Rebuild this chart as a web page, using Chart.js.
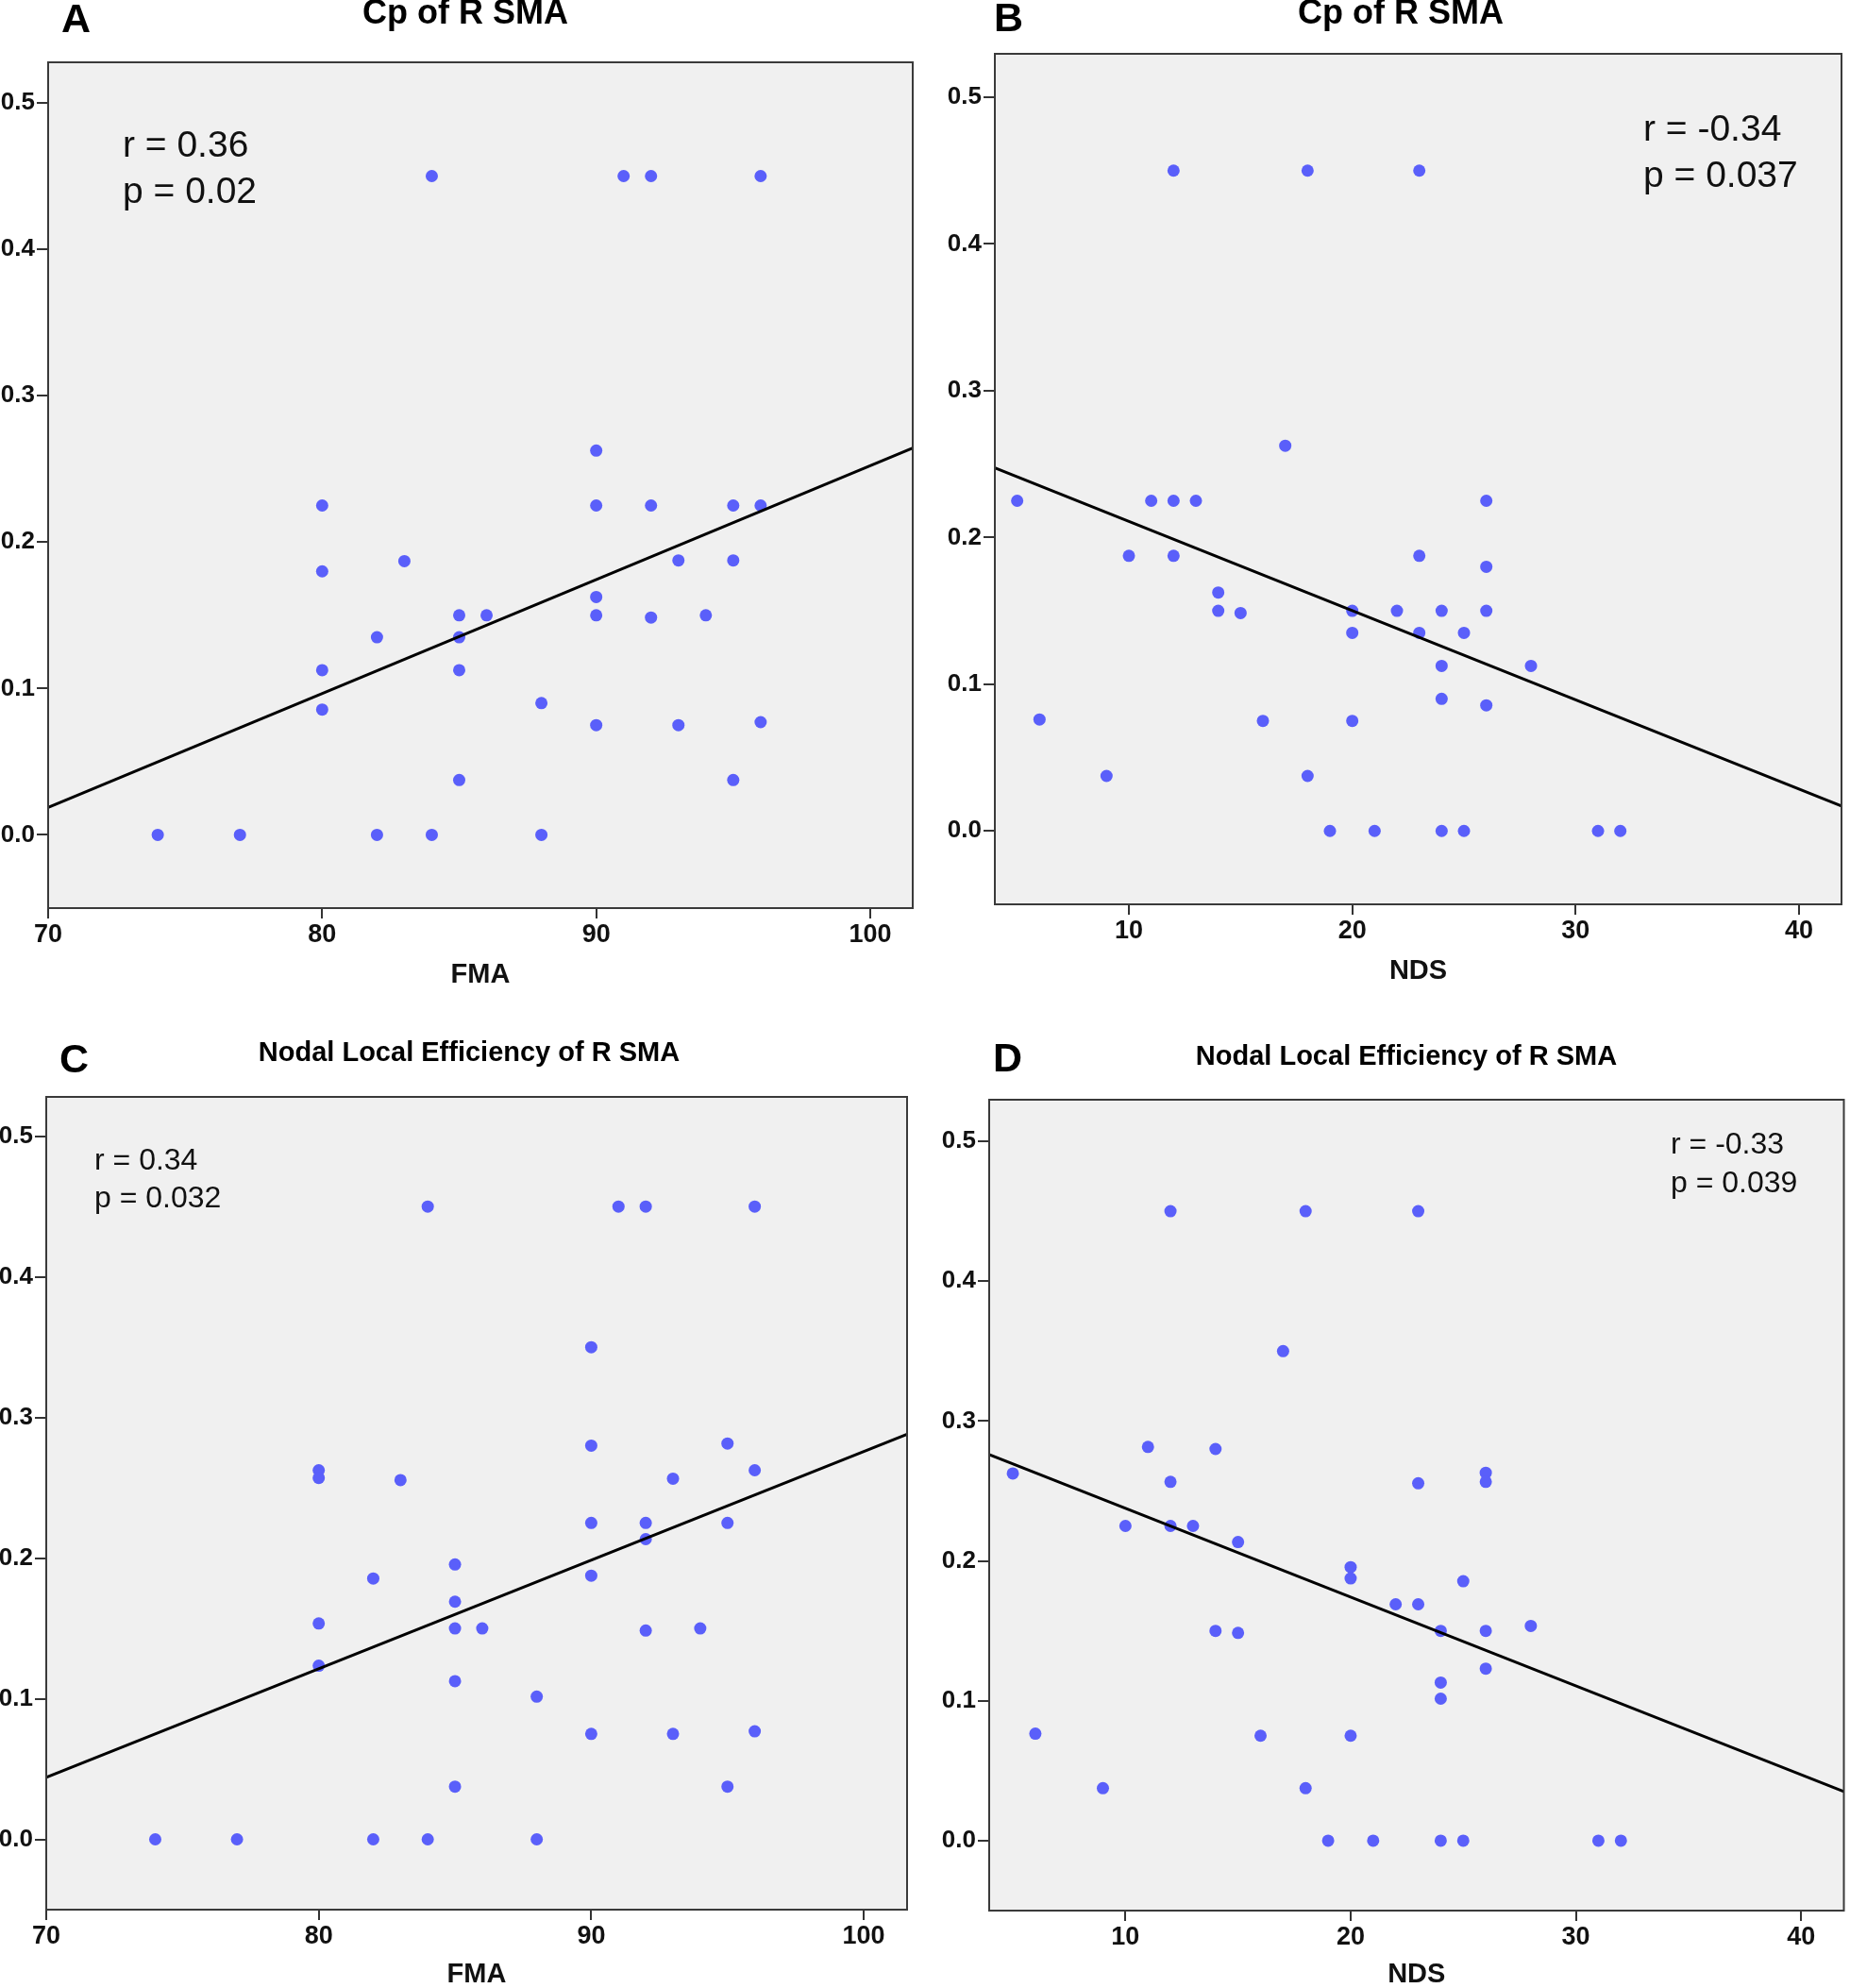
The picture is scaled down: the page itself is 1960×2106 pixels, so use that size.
<!DOCTYPE html>
<html>
<head>
<meta charset="utf-8">
<script src="https://cdn.jsdelivr.net/npm/chart.js@4.4.1/dist/chart.umd.min.js"></script>
<style>
    html, body { margin: 0; padding: 0; background: #fff; }
    body { width: 1960px; height: 2106px; position: relative; overflow: hidden; }
    canvas { position: absolute; }
</style>
</head>
<body>
<canvas id="chartA" width="980" height="1053" style="left:0px;top:0px"></canvas>
<canvas id="chartB" width="980" height="1053" style="left:980px;top:0px"></canvas>
<canvas id="chartC" width="980" height="1053" style="left:0px;top:1053px"></canvas>
<canvas id="chartD" width="980" height="1053" style="left:980px;top:1053px"></canvas>
<script>
// ticks
const fmaTicks = [70, 80, 90, 100];
const ndsTicks = [10, 20, 30, 40];
const yTicks = [0.0, 0.1, 0.2, 0.3, 0.4, 0.5];

// A - Cp of R SMA vs FMA
const cpFmaX = [74, 77, 82, 84, 88, 84, 91, 92, 96, 90, 80, 90, 92, 95, 96, 80, 83, 93, 95, 90,
    85, 86, 90, 92, 94, 82, 85, 80, 85, 80, 88, 90, 93, 96, 85, 95];
const cpFmaY = [0, 0, 0, 0, 0, 0.45, 0.45, 0.45, 0.45, 0.2625, 0.225, 0.225, 0.225, 0.225, 0.225, 0.18, 0.187, 0.1875, 0.1875, 0.1625,
    0.15, 0.15, 0.15, 0.1485, 0.15, 0.135, 0.135, 0.1125, 0.1125, 0.0856, 0.09, 0.075, 0.075, 0.077, 0.0375, 0.0375];
const cpFmaFitX = [70, 101.55];
const cpFmaFitY = [0.0188, 0.2642];
const cpFmaStats = ['r = 0.36', 'p = 0.02'];

// B - Cp of R SMA vs NDS
const cpNdsX = [5, 6, 9, 10, 11, 12, 12, 12, 13, 14, 14, 15, 16, 17, 18, 18, 19, 20, 20, 20,
    21, 22, 23, 23, 23, 24, 24, 24, 24, 25, 25, 26, 26, 26, 26, 28, 31, 32];
const cpNdsY = [0.225, 0.076, 0.0375, 0.1875, 0.225, 0.225, 0.1875, 0.45, 0.225, 0.1625, 0.15, 0.1485, 0.075, 0.2625, 0.45, 0.0375, 0, 0.15, 0.135, 0.075,
    0, 0.15, 0.45, 0.1875, 0.135, 0.15, 0.1125, 0.09, 0, 0.135, 0, 0.225, 0.18, 0.15, 0.0856, 0.1125, 0, 0];
const cpNdsFitX = [4, 41.9];
const cpNdsFitY = [0.2474, 0.017];
const cpNdsStats = ['r = -0.34', 'p = 0.037'];

// C - Nodal local efficiency vs FMA
const effFmaX = [74, 77, 82, 84, 88, 84, 91, 92, 96, 90, 90, 95, 80, 80, 83, 93, 96, 90, 92, 95,
    92, 82, 85, 90, 85, 85, 86, 92, 94, 80, 80, 85, 88, 90, 93, 96, 85, 95];
const effFmaY = [0, 0, 0, 0, 0, 0.45, 0.45, 0.45, 0.45, 0.35, 0.28, 0.2815, 0.2625, 0.257, 0.2555, 0.2565, 0.2625, 0.225, 0.225, 0.225,
    0.2135, 0.1855, 0.1955, 0.1875, 0.169, 0.15, 0.15, 0.1485, 0.15, 0.1535, 0.1235, 0.1125, 0.1015, 0.075, 0.075, 0.0768, 0.0375, 0.0375];
const effFmaFitX = [70, 101.59];
const effFmaFitY = [0.044, 0.288];
const effFmaStats = ['r = 0.34', 'p = 0.032'];

// D - Nodal local efficiency vs NDS
const effNdsX = [5, 6, 9, 10, 11, 12, 12, 12, 13, 14, 14, 15, 15, 16, 17, 18, 18, 19, 20, 20,
    20, 21, 22, 23, 23, 23, 24, 24, 24, 24, 25, 25, 26, 26, 26, 26, 28, 31, 32];
const effNdsY = [0.2625, 0.0765, 0.0375, 0.225, 0.2815, 0.45, 0.2565, 0.225, 0.225, 0.28, 0.15, 0.2135, 0.1485, 0.075, 0.35, 0.45, 0.0375, 0, 0.1955, 0.1875,
    0.075, 0, 0.169, 0.45, 0.2555, 0.169, 0.15, 0.113, 0.1015, 0, 0.1855, 0, 0.263, 0.2565, 0.15, 0.123, 0.1535, 0, 0];
const effNdsFitX = [3.95, 41.9];
const effNdsFitY = [0.2761, 0.0351];
const effNdsStats = ['r = -0.33', 'p = 0.039'];

Chart.defaults.font.family = 'Arial, "Liberation Sans", sans-serif';
Chart.defaults.color = '#111';

const toPoints = (xs, ys) => xs.map((x, i) => ({ x: x, y: ys[i] }));

// fondo gris, marco y textos del panel
const panelDeco = {
    id: 'panelDeco',
    beforeDraw(chart, args, o)
    {
        const { ctx, chartArea: a } = chart;
        ctx.save();
        ctx.fillStyle = '#f0f0f0';
        ctx.fillRect(a.left, a.top, a.right - a.left, a.bottom - a.top);
        ctx.restore();
    },
    afterDraw(chart, args, o)
    {
        const { ctx, chartArea: a } = chart;
        ctx.save();
        ctx.strokeStyle = '#3a3a3a';
        ctx.lineWidth = 2;
        ctx.strokeRect(a.left, a.top, a.right - a.left, a.bottom - a.top);

        ctx.fillStyle = '#000';
        ctx.textBaseline = 'alphabetic';
        ctx.textAlign = 'left';
        ctx.font = 'bold 43px Arial, "Liberation Sans", sans-serif';
        ctx.fillText(o.letter, o.letterX, o.letterY);

        ctx.textAlign = 'center';
        ctx.font = 'bold ' + o.titleSize + 'px Arial, "Liberation Sans", sans-serif';
        ctx.fillText(o.title, o.titleX, o.titleY);

        ctx.textAlign = 'left';
        ctx.fillStyle = '#111';
        ctx.font = o.statsSize + 'px Arial, "Liberation Sans", sans-serif';
        o.stats.forEach((s, i) => ctx.fillText(s, o.statsX, o.statsY + i * o.statsGap));
        ctx.restore();
    }
};

const panels = [
    { id: 'chartA', left: 0, top: 0, letter: 'A', letterX: 65, letterY: 34, title: 'Cp of R SMA', titleX: 493, titleY: 25, titleSize: 36,
      xLabel: 'FMA', xTicks: fmaTicks, xMin: 70, xMax: 101.55, yMax: 0.5277, xs: cpFmaX, ys: cpFmaY, fitX: cpFmaFitX, fitY: cpFmaFitY,
      stats: cpFmaStats, statsX: 130, statsY: 166, statsSize: 39, statsGap: 49,
      padTop: 66, padRight: 13, yWidth: 51, xHeight: 91, xTitlePad: 5.5 },
    { id: 'chartB', left: 980, top: 0, letter: 'B', letterX: 1053, letterY: 33, title: 'Cp of R SMA', titleX: 1484, titleY: 25, titleSize: 36,
      xLabel: 'NDS', xTicks: ndsTicks, xMin: 4, xMax: 41.9, yMax: 0.5296, xs: cpNdsX, ys: cpNdsY, fitX: cpNdsFitX, fitY: cpNdsFitY,
      stats: cpNdsStats, statsX: 1741, statsY: 149, statsSize: 39, statsGap: 49,
      padTop: 57, padRight: 9, yWidth: 74, xHeight: 95, xTitlePad: 9.5 },
    { id: 'chartC', left: 0, top: 1053, letter: 'C', letterX: 63, letterY: 1136, title: 'Nodal Local Efficiency of R SMA', titleX: 497, titleY: 1124, titleSize: 29,
      xLabel: 'FMA', xTicks: fmaTicks, xMin: 70, xMax: 101.59, yMax: 0.528, xs: effFmaX, ys: effFmaY, fitX: effFmaFitX, fitY: effFmaFitY,
      stats: effFmaStats, statsX: 100, statsY: 1239, statsSize: 32, statsGap: 40,
      padTop: 109, padRight: 19, yWidth: 49, xHeight: 83, xTitlePad: 0 },
    { id: 'chartD', left: 980, top: 1053, letter: 'D', letterX: 1052, letterY: 1135, title: 'Nodal Local Efficiency of R SMA', titleX: 1490, titleY: 1128, titleSize: 29,
      xLabel: 'NDS', xTicks: ndsTicks, xMin: 3.95, xMax: 41.9, yMax: 0.5297, xs: effNdsX, ys: effNdsY, fitX: effNdsFitX, fitY: effNdsFitY,
      stats: effNdsStats, statsX: 1770, statsY: 1222, statsSize: 32, statsGap: 41,
      padTop: 112, padRight: 2, yWidth: 68, xHeight: 82, xTitlePad: 0 }
];

panels.forEach(p =>
{
    const canvas = document.getElementById(p.id);
    new Chart(canvas, {
        type: 'scatter',
        data: {
            datasets: [
                {
                    data: toPoints(p.fitX, p.fitY),
                    showLine: true,
                    borderColor: '#000',
                    borderWidth: 3,
                    pointRadius: 0,
                    order: 0
                },
                {
                    data: toPoints(p.xs, p.ys),
                    pointRadius: 6.5,
                    pointBackgroundColor: '#5a5ffa',
                    pointBorderWidth: 0,
                    order: 1
                }
            ]
        },
        options: {
            responsive: false,
            animation: false,
            events: [],
            devicePixelRatio: 1,
            layout: { padding: { left: 0, right: p.padRight, top: p.padTop, bottom: 0 } },
            plugins: {
                legend: { display: false },
                tooltip: { enabled: false },
                panelDeco: {
                    letter: p.letter, letterX: p.letterX - p.left, letterY: p.letterY - p.top,
                    title: p.title, titleX: p.titleX - p.left, titleY: p.titleY - p.top, titleSize: p.titleSize,
                    stats: p.stats, statsX: p.statsX - p.left, statsY: p.statsY - p.top, statsSize: p.statsSize, statsGap: p.statsGap
                }
            },
            scales: {
                x: {
                    type: 'linear',
                    position: 'bottom',
                    min: p.xMin,
                    max: p.xMax,
                    afterBuildTicks: s => { s.ticks = p.xTicks.map(v => ({ value: v })); },
                    afterFit: s => { s.height = p.xHeight; },
                    grid: { drawOnChartArea: false, drawTicks: true, tickLength: 11, color: '#333', lineWidth: 2 },
                    border: { display: false },
                    ticks: { padding: 1, color: '#111', font: { size: 27, weight: 'bold' }, callback: v => String(v) },
                    title: { display: true, text: p.xLabel, color: '#111', font: { size: 29, weight: 'bold', lineHeight: 1 }, padding: { top: 0, bottom: p.xTitlePad } }
                },
                y: {
                    type: 'linear',
                    min: -0.05,
                    max: p.yMax,
                    afterBuildTicks: s => { s.ticks = yTicks.map(v => ({ value: v })); },
                    afterFit: s => { s.width = p.yWidth; },
                    grid: { drawOnChartArea: false, drawTicks: true, tickLength: 12, color: '#333', lineWidth: 2 },
                    border: { display: false },
                    ticks: { padding: 2, color: '#111', font: { size: 26, weight: 'bold' }, callback: v => v.toFixed(1) }
                }
            }
        },
        plugins: [panelDeco]
    });
});
</script>
</body>
</html>
